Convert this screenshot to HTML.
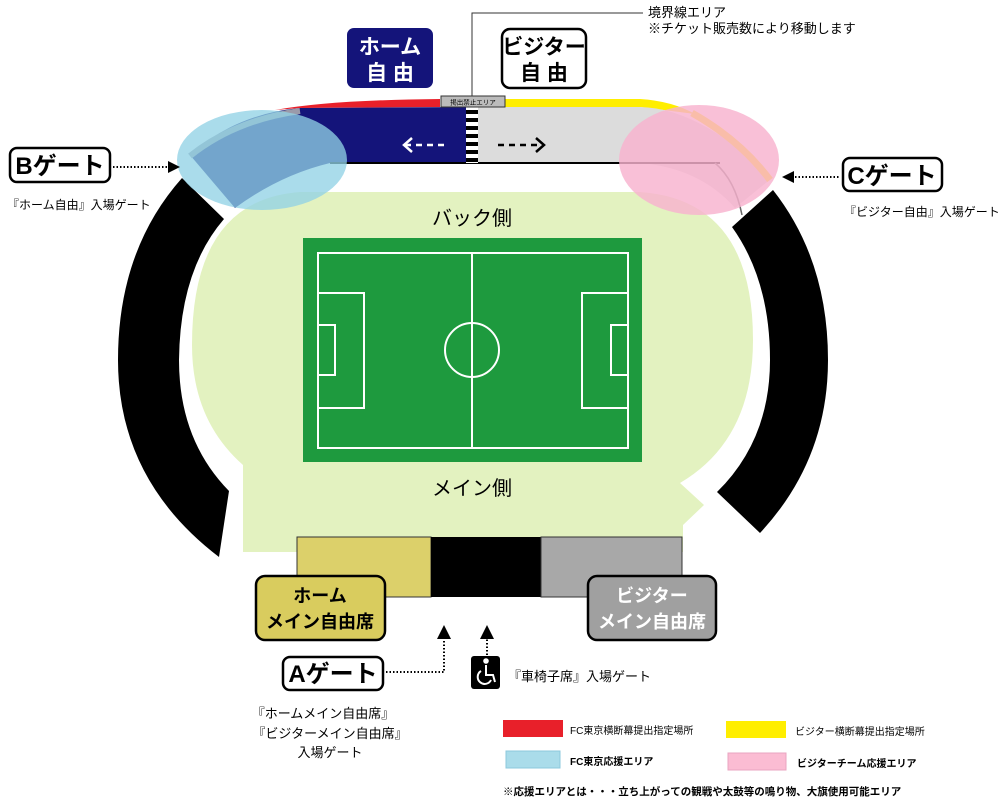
<!DOCTYPE html>
<html><head><meta charset="utf-8"><style>
body{margin:0;width:1000px;height:806px;background:#fff;overflow:hidden}
svg{display:block}
text{font-family:"Liberation Sans","Noto Sans CJK JP",sans-serif}
.b{font-weight:bold}
</style></head><body>
<svg width="1000" height="806" viewBox="0 0 1000 806" xmlns="http://www.w3.org/2000/svg">
<path d="M300,192 L640,192 Q753,200 753,340 Q753,440 680,483 L704,505 L683,525 L683,552 L243,552 L243,465 Q192,420 192,345 Q192,200 300,192 Z" fill="#e3f2c0"/>
<path d="M182,178 Q118,250 118,360 Q118,480 219,557 L229,491 Q179,440 179,360 Q180,270 224,219 Z" fill="#000"/>
<path d="M773,190 Q828,260 828,360 Q828,460 760,533 L717,492 Q770,440 770,360 Q770,280 732,227 Z" fill="#000"/>
<!-- top stand -->
<path d="M275,110 Q330,100 440,99 L440,107 L300,108 Z" fill="#e8202a"/>
<path d="M505,99 L640,99 Q672,101 695,114 L640,107 L505,107 Z" fill="#ffee00"/>
<path d="M190,155 Q235,114 300,108 L472,107 L472,163 L330,163 Q280,175 235,208 Z" fill="#14147a"/>
<path d="M472,107 L640,107 Q700,108 772,178 L735,208 Q700,168 640,163 L472,163 Z" fill="#dcdcdc"/>
<line x1="330" y1="163" x2="720" y2="163" stroke="#000" stroke-width="2"/>
<path d="M715,163 Q735,180 742,215" stroke="#666" stroke-width="1.5" fill="none"/>
<path d="M190,156 Q235,120 300,111" stroke="#9a9aaa" stroke-width="6" fill="none"/>
<path d="M692,113 Q740,140 770,180" stroke="#ffee00" stroke-width="7" fill="none"/>
<rect x="466" y="107" width="12" height="56" fill="#fff"/>
<g fill="#000"><rect x="466" y="110" width="12" height="4"/><rect x="466" y="118" width="12" height="4"/><rect x="466" y="126" width="12" height="4"/><rect x="466" y="134" width="12" height="4"/><rect x="466" y="142" width="12" height="4"/><rect x="466" y="150" width="12" height="4"/><rect x="466" y="158" width="12" height="4"/></g>
<rect x="441" y="96" width="64" height="11" fill="#bbb" stroke="#333" stroke-width="1"/>
<text x="473" y="104.5" font-size="6.5" text-anchor="middle" fill="#000">掲出禁止エリア</text>
<!-- arrows -->
<g stroke-width="2.5" fill="none">
<line x1="405" y1="145" x2="445" y2="145" stroke="#fff" stroke-dasharray="6,5"/>
<polyline points="412,138 404,145 412,152" stroke="#fff"/>
<line x1="498" y1="145" x2="542" y2="145" stroke="#000" stroke-dasharray="6,5"/>
<polyline points="536,138 544,145 536,152" stroke="#000"/>
</g>
<ellipse cx="262" cy="160" rx="85" ry="50" fill="rgb(144,209,229)" fill-opacity="0.77"/>
<ellipse cx="699" cy="160" rx="80" ry="55" fill="rgb(248,178,206)" fill-opacity="0.82"/>
<polyline points="472,96 472,13 643,13" fill="none" stroke="#333" stroke-width="1"/>
<text x="648" y="17" font-size="13">境界線エリア</text>
<text x="648" y="33" font-size="13">※チケット販売数により移動します</text>
<rect x="347" y="28" width="86" height="60" rx="7" fill="#14147a"/>
<text x="390" y="54" font-size="21" fill="#fff" text-anchor="middle" class="b">ホーム</text>
<text x="390" y="80" font-size="21" fill="#fff" text-anchor="middle" class="b">自 由</text>
<rect x="502" y="29" width="84" height="59" rx="8" fill="#fff" stroke="#000" stroke-width="2.5"/>
<text x="544" y="54" font-size="21" text-anchor="middle" class="b">ビジター</text>
<text x="544" y="80" font-size="21" text-anchor="middle" class="b">自 由</text>
<rect x="303" y="238" width="339" height="224" fill="#1e9a3e"/>
<g fill="none" stroke="#fff" stroke-width="2">
<rect x="318" y="253" width="310" height="195"/>
<line x1="472" y1="253" x2="472" y2="448"/>
<circle cx="472" cy="350" r="27"/>
<rect x="318" y="293" width="46" height="115"/>
<rect x="318" y="325" width="17" height="50"/>
<rect x="582" y="293" width="46" height="115"/>
<rect x="611" y="325" width="17" height="50"/>
</g>
<text x="472" y="225" font-size="20" text-anchor="middle">バック側</text>
<text x="472" y="495" font-size="20" text-anchor="middle">メイン側</text>
<rect x="297" y="537" width="134" height="60" fill="#dcd06a" stroke="#333" stroke-width="1"/>
<rect x="431" y="537" width="110" height="60" fill="#000"/>
<rect x="541" y="537" width="141" height="60" fill="#a8a8a8" stroke="#333" stroke-width="1"/>
<rect x="256" y="576" width="129" height="64" rx="9" fill="#d9cc5e" stroke="#000" stroke-width="2.5"/>
<text x="320" y="602" font-size="18" text-anchor="middle" class="b">ホーム</text>
<text x="320" y="628" font-size="18" text-anchor="middle" class="b">メイン自由席</text>
<rect x="588" y="576" width="128" height="64" rx="9" fill="#a0a0a0" stroke="#000" stroke-width="2.5"/>
<text x="652" y="602" font-size="18" fill="#fff" text-anchor="middle" class="b">ビジター</text>
<text x="652" y="628" font-size="18" fill="#fff" text-anchor="middle" class="b">メイン自由席</text>
<g stroke="#000" stroke-width="2" stroke-dasharray="1.5,2" fill="none">
<polyline points="386,672 444,672 444,638"/>
<line x1="487" y1="655" x2="487" y2="638"/>
<line x1="113" y1="167" x2="168" y2="167"/>
<line x1="795" y1="177" x2="840" y2="177"/>
</g>
<polygon points="437,639 451,639 444,625" fill="#000"/>
<polygon points="480,639 494,639 487,625" fill="#000"/>
<polygon points="168,161 168,173 180,167" fill="#000"/>
<polygon points="794,171 794,183 782,177" fill="#000"/>
<rect x="283" y="657" width="100" height="33" rx="7" fill="#fff" stroke="#000" stroke-width="2.5"/>
<text x="333" y="682" font-size="24" text-anchor="middle" class="b">Aゲート</text>
<text x="323" y="718" font-size="13" text-anchor="middle">『ホームメイン自由席』</text>
<text x="330" y="738" font-size="13" text-anchor="middle">『ビジターメイン自由席』</text>
<text x="330" y="757" font-size="13" text-anchor="middle">入場ゲート</text>
<rect x="471" y="656" width="29" height="33" rx="3" fill="#000"/>
<g stroke="#fff" stroke-width="2" fill="none">
<circle cx="486" cy="661" r="1.8" fill="#fff"/>
<polyline points="486,665 486,675 493,675 495,682"/>
<path d="M481,671 A7,7 0 1 0 491,680"/>
</g>
<text x="508" y="681" font-size="13">『車椅子席』入場ゲート</text>
<rect x="10" y="148" width="100" height="34" rx="7" fill="#fff" stroke="#000" stroke-width="2.5"/>
<text x="60" y="174" font-size="24" text-anchor="middle" class="b">Bゲート</text>
<text x="7" y="209" font-size="12">『ホーム自由』入場ゲート</text>
<rect x="843" y="158" width="99" height="33" rx="7" fill="#fff" stroke="#000" stroke-width="2.5"/>
<text x="892" y="184" font-size="24" text-anchor="middle" class="b">Cゲート</text>
<text x="844" y="216" font-size="12">『ビジター自由』入場ゲート</text>
<rect x="503" y="720" width="60" height="17" fill="#e8202a"/>
<text x="570" y="734" font-size="10">FC東京横断幕提出指定場所</text>
<rect x="726" y="721" width="60" height="17" fill="#ffee00"/>
<text x="795" y="735" font-size="10">ビジター横断幕提出指定場所</text>
<rect x="506" y="751" width="54" height="17" fill="#aadcea" stroke="#8cc8dc"/>
<text x="570" y="765" font-size="10" class="b">FC東京応援エリア</text>
<rect x="728" y="753" width="58" height="17" fill="#fbbcd3" stroke="#eaa5c0"/>
<text x="797" y="767" font-size="10" class="b">ビジターチーム応援エリア</text>
<text x="503" y="795" font-size="10.5" class="b">※応援エリアとは・・・立ち上がっての観戦や太鼓等の鳴り物、大旗使用可能エリア</text>
</svg>
</body></html>
